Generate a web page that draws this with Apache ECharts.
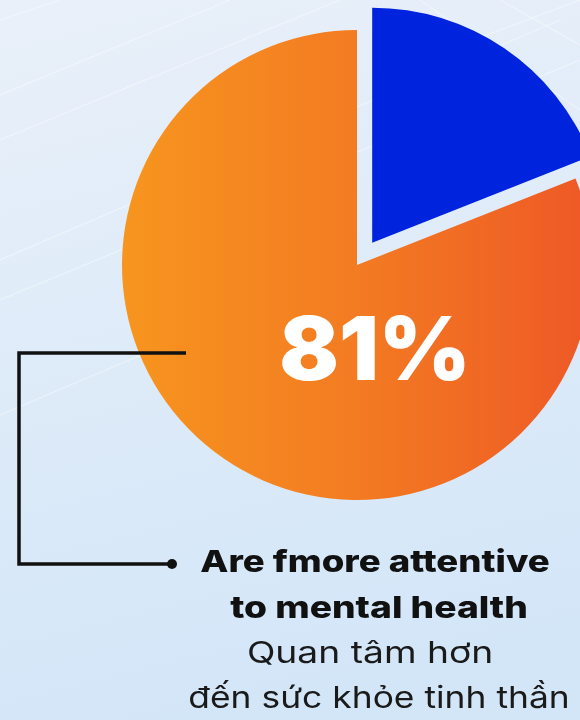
<!DOCTYPE html>
<html>
<head>
<meta charset="utf-8">
<script src="https://cdn.jsdelivr.net/npm/echarts@6/dist/echarts.min.js"></script>
<style>
  html, body { margin: 0; padding: 0; }
  #chart { width: 580px; height: 720px; }
</style>
</head>
<body>
<div id="chart"></div>
<script>
// Survey share: people who pay more attention to mental health
const categories = ['Other', 'Are fmore attentive to mental health'];
const values = [19, 81];
const sliceColors = ['#0024DE', null];

const captionBold = ['Are fmore attentive', 'to mental health'];
const captionVi = ['Quan tâm hơn', 'đến sức khỏe tinh thần'];

const chart = echarts.init(document.getElementById('chart'), null, { renderer: 'canvas' });

const orangeFill = {
  type: 'linear', x: 122, y: 0, x2: 592, y2: 0, global: true,
  colorStops: [
    { offset: 0, color: '#F7951E' },
    { offset: 0.5, color: '#F37B22' },
    { offset: 1, color: '#EE5826' }
  ]
};

const total = values.reduce((a, b) => a + b, 0);
const mainShare = Math.round(values[1] / total * 100);

// faint background streaks
const streaks = [
  [[0, 140], [340, 0]],
  [[0, 95], [230, 0]],
  [[0, 260], [560, 20]],
  [[0, 300], [580, 60]],
  [[0, 415], [200, 330]],
  [[420, 0], [580, 110]],
  [[500, 0], [580, 45]],
  [[420, 60], [580, 0]],
  [[60, 0], [0, 20]]
];
const streakGraphics = streaks.map(s => ({
  type: 'line', silent: true, z: -10,
  shape: { x1: s[0][0], y1: s[0][1], x2: s[1][0], y2: s[1][1] },
  style: { stroke: 'rgba(255,255,255,0.4)', lineWidth: 1.2 }
}));

// caption line: text centred on (x, y-baseline), widened to a geometric face
function caption(text, x, y, weight, color, sx) {
  return {
    type: 'text', z: 10, x: x, y: y, scaleX: sx,
    style: {
      text: text, fill: color, font: weight + ' 30px Inter',
      textAlign: 'center', textVerticalAlign: 'bottom'
    }
  };
}

const option = {
  backgroundColor: {
    type: 'linear', x: 0, y: 0, x2: 0.3, y2: 1,
    colorStops: [
      { offset: 0, color: '#E9F0F9' },
      { offset: 1, color: '#D3E6F8' }
    ]
  },
  animation: false,
  series: [{
    type: 'pie',
    center: [357, 265],
    radius: 235,
    startAngle: 90,
    clockwise: true,
    selectedMode: 'single',
    selectedOffset: 27,
    label: { show: false },
    labelLine: { show: false },
    emphasis: { disabled: true },
    itemStyle: { borderWidth: 0 },
    data: categories.map((name, i) => ({
      name,
      value: values[i],
      selected: i === 0,
      itemStyle: { color: sliceColors[i] || orangeFill }
    }))
  }],
  graphic: [
    ...streakGraphics,
    {
      type: 'text', z: 10,
      x: 375, y: 354,
      style: {
        text: mainShare + '%',
        fill: '#FFFFFF',
        font: '900 88px Inter',
        textAlign: 'center',
        textVerticalAlign: 'middle'
      }
    },
    {
      type: 'polyline', z: 10,
      shape: { points: [[186, 353], [19, 353], [19, 564], [172, 564]] },
      style: { stroke: '#111111', lineWidth: 3.5, fill: null, lineJoin: 'miter' }
    },
    {
      type: 'circle', z: 10,
      shape: { cx: 172, cy: 564, r: 5 },
      style: { fill: '#111111' }
    },
    caption(captionBold[0], 375, 578, 800, '#111111', 1.22),
    caption(captionBold[1], 379, 624, 800, '#111111', 1.24),
    caption(captionVi[0], 370, 669, 400, '#1A1A1A', 1.24),
    caption(captionVi[1], 379, 714, 400, '#1A1A1A', 1.18)
  ]
};

chart.setOption(option);
</script>
</body>
</html>
